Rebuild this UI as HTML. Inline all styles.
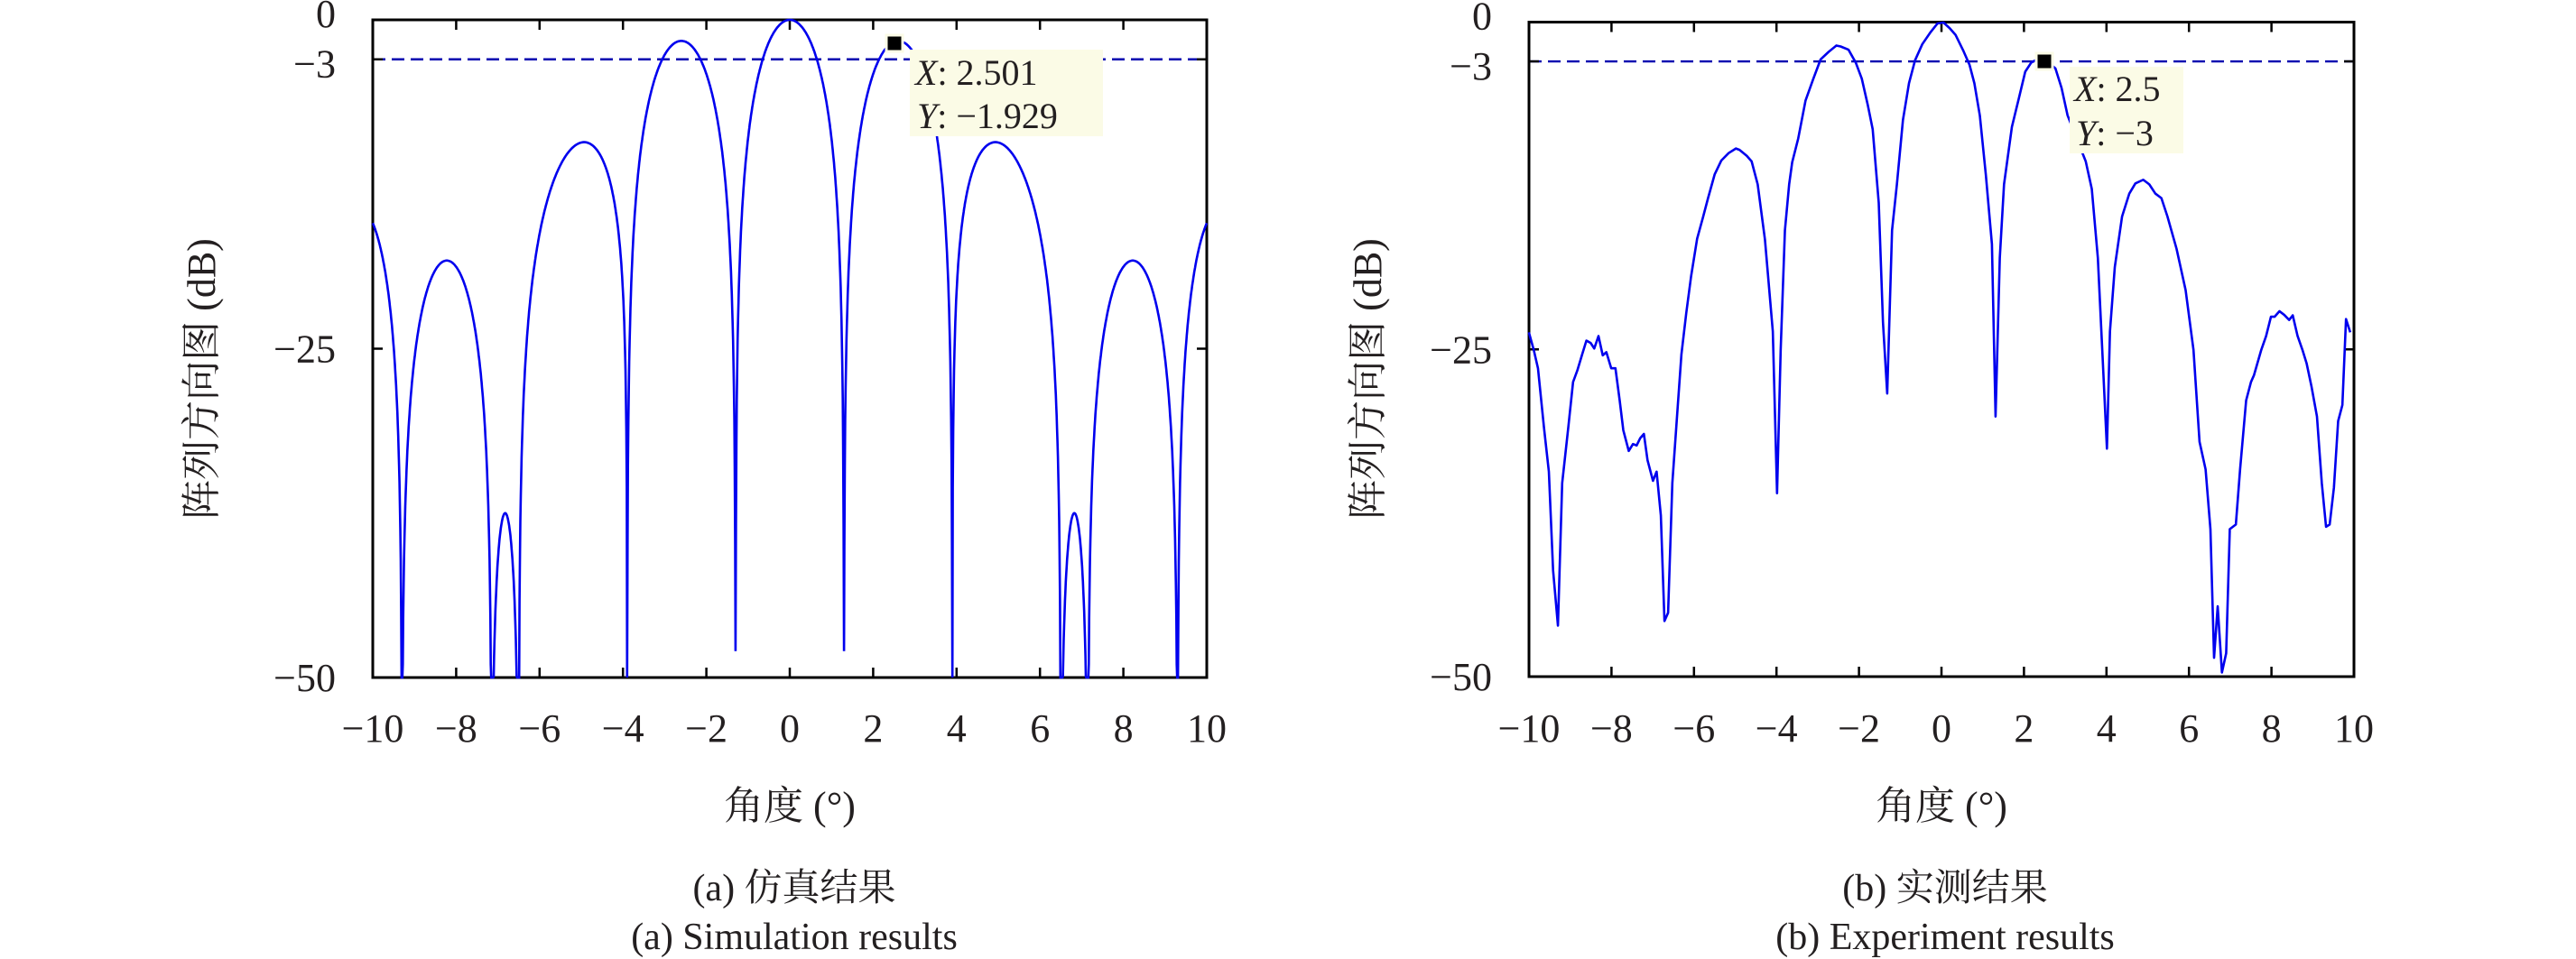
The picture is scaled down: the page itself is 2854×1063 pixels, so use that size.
<!DOCTYPE html>
<html><head><meta charset="utf-8"><style>
html,body{margin:0;padding:0;background:#fff;}
svg{display:block;}
svg text{font-family:"Liberation Serif","Noto Serif CJK SC",serif !important;fill:#231f20;}
</style></head><body>
<svg id="s" width="2854" height="1063" viewBox="0 0 2854 1063" xmlns="http://www.w3.org/2000/svg" font-family="'Liberation Serif','Noto Serif CJK SC',serif">
<g id="axes"></g>
<g transform="translate(1600,0.55) scale(0.6706,0.5095)">
<polyline fill="none" stroke="#0000ee" stroke-width="2.6" vector-effect="non-scaling-stroke" stroke-linejoin="round" points="140,722 148,760 155,800 165,930 173,1025 180,1240 188,1360 195,1050 205,930 213,830 220,805 228,770 235,740 242,745 248,757 255,730 262,772 268,765 276,800 283,800 290,870 296,935 305,980 312,965 318,968 324,952 330,943 336,1000 345,1045 351,1025 358,1120 364,1350 370,1332 377,1050 385,900 392,770 400,680 408,600 418,518 428,470 436,430 447,378 458,348 470,332 482,322 488,325 500,338 508,350 518,400 530,520 543,720 550,1072 556,760 563,500 570,400 575,352 585,300 597,218 610,170 622,128 635,112 648,98 655,100 668,107 680,135 690,170 700,228 708,280 718,440 725,700 732,855 740,500 748,400 758,260 768,180 778,130 790,95 803,70 815,50 825,48 835,60 845,75 858,110 868,140 876,180 885,250 895,380 905,530 911,905 918,560 925,400 938,275 950,210 960,155 970,135 980,128 995,130 1010,148 1020,190 1030,250 1045,300 1060,350 1070,410 1080,560 1088,780 1095,975 1100,720 1108,580 1120,470 1132,420 1142,398 1155,390 1165,400 1175,420 1185,430 1195,470 1210,540 1225,630 1238,760 1248,960 1258,1020 1266,1150 1272,1430 1278,1318 1285,1462 1292,1420 1298,1150 1308,1140 1315,1020 1325,870 1333,830 1338,815 1350,760 1358,730 1366,688 1372,688 1380,676 1388,684 1396,695 1402,685 1410,730 1418,760 1425,790 1433,840 1442,905 1450,1050 1457,1145 1463,1140 1470,1060 1477,915 1484,880 1490,693 1497,722"/>
</g>
<g id="sim"></g>
<g id="tips"></g>
<text x="238" y="420" font-size="44" text-anchor="middle" transform="rotate(-90 238 420)">阵列方向图 (dB)</text>
<text x="1530" y="420" font-size="44" text-anchor="middle" transform="rotate(-90 1530 420)">阵列方向图 (dB)</text>
<text x="875" y="908" font-size="44" text-anchor="middle">角度 (°)</text>
<text x="2151" y="908" font-size="44" text-anchor="middle">角度 (°)</text>
<text x="880" y="998" font-size="42" text-anchor="middle">(a) 仿真结果</text>
<text x="880" y="1052" font-size="42" text-anchor="middle">(a) Simulation results</text>
<text x="2155" y="998" font-size="42" text-anchor="middle">(b) 实测结果</text>
<text x="2155" y="1052" font-size="42" text-anchor="middle">(b) Experiment results</text>
</svg>
<script>
var NS="http://www.w3.org/2000/svg";
function el(p,t,a,txt){var e=document.createElementNS(NS,t);for(var k in a)e.setAttribute(k,a[k]);if(txt!==undefined)e.textContent=txt;p.appendChild(e);return e;}
var axes=document.getElementById('axes');
var plots=[{L:413,R:1337,T:22,B:751,lab:372},{L:1694,R:2608,T:24.5,B:750,lab:1653}];
plots.forEach(function(p){
  var sx=function(x){return p.L+(x+10)/20*(p.R-p.L);};
  var sy=function(y){return p.T+(-y)/50*(p.B-p.T);};
  p.sx=sx;p.sy=sy;
  el(axes,'line',{x1:p.L,x2:p.R,y1:sy(-3),y2:sy(-3),stroke:'#0000b0','stroke-width':2.4,'stroke-dasharray':'14,7'});
  el(axes,'rect',{x:p.L,y:p.T,width:p.R-p.L,height:p.B-p.T,fill:'none',stroke:'#000','stroke-width':3});
  for(var x=-10;x<=10;x+=2){
    var X=sx(x);
    el(axes,'line',{x1:X,x2:X,y1:p.B,y2:p.B-11,stroke:'#000','stroke-width':2.5});
    el(axes,'line',{x1:X,x2:X,y1:p.T,y2:p.T+11,stroke:'#000','stroke-width':2.5});
    el(axes,'text',{x:X,y:822,'font-size':44,'text-anchor':'middle'},(x<0?'\u2212':'')+Math.abs(x));
  }
  [0,-3,-25,-50].forEach(function(y){
    var Y=sy(y);
    el(axes,'line',{x1:p.L,x2:p.L+11,y1:Y,y2:Y,stroke:'#000','stroke-width':2.5});
    el(axes,'line',{x1:p.R,x2:p.R-11,y1:Y,y2:Y,stroke:'#000','stroke-width':2.5});
    var ty=Y+15; if(y==0)ty=Y+8; if(y==-3)ty=Y+20;
    el(axes,'text',{x:p.lab,y:ty,'font-size':44,'text-anchor':'end'},(y<0?'\u2212':'')+Math.abs(y));
  });
});
var lobes=[[-1.3,1.3,0],[1.3,3.9,-1.6],[3.9,6.5,-9.3],[6.5,7.15,-37.5],[7.15,9.3,-18.3],[9.3,11.4,-14.2]];
function val(x){
  var ax=Math.abs(x);
  for(var i=0;i<lobes.length;i++){var l=lobes[i];
    if(ax>=l[0]&&ax<=l[1]){var t=(ax-l[0])/(l[1]-l[0]);
      if(i==2)t=Math.pow(t,0.75);
      var s=Math.sin(Math.PI*t);
      return l[2]+20*Math.log10(Math.max(s,1e-6));}}
  return -50;
}
var p=plots[0],pts=[];
for(var x=-10;x<=10.0001;x+=0.01){
  var v=val(x);
  if(Math.abs(Math.abs(x)-1.3)<0.006)v=-48;
  v=Math.max(v,-50);
  pts.push(p.sx(x).toFixed(1)+','+p.sy(v).toFixed(1));
}
el(document.getElementById('sim'),'polyline',{points:pts.join(' '),fill:'none',stroke:'#0000ee','stroke-width':2.6});
var tips=document.getElementById('tips');
el(tips,'rect',{x:1008,y:55,width:214,height:96,fill:'#fbfbe6'});
el(tips,'rect',{x:982,y:39,width:18,height:18,fill:'#000',stroke:'#fbfbe6','stroke-width':3});
el(tips,'text',{x:1014,y:94,'font-size':40},'').innerHTML='<tspan font-style="italic">X</tspan>: 2.501';
el(tips,'text',{x:1016,y:142,'font-size':40},'').innerHTML='<tspan font-style="italic">Y</tspan>: \u22121.929';
el(tips,'rect',{x:2293,y:74,width:126,height:96,fill:'#fbfbe6'});
el(tips,'rect',{x:2256,y:59,width:18,height:18,fill:'#000',stroke:'#fbfbe6','stroke-width':3});
el(tips,'text',{x:2298,y:112,'font-size':40},'').innerHTML='<tspan font-style="italic">X</tspan>: 2.5';
el(tips,'text',{x:2300,y:161,'font-size':40},'').innerHTML='<tspan font-style="italic">Y</tspan>: \u22123';
</script>
</body></html>
